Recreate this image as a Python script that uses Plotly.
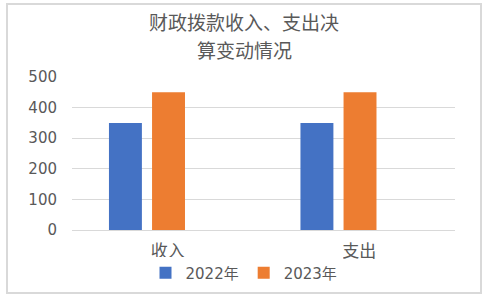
import plotly.graph_objects as go

categories = ["收入", "支出"]
series_names = ["2022年", "2023年"]
values_2022 = [350, 350]
values_2023 = [450, 450]
y_ticks = [0, 100, 200, 300, 400, 500]
title_lines = ["财政拨款收入、支出决", "算变动情况"]

W, H = 489, 297
L, R, T, B = 72, 34, 77, 67
pw, ph = W - L - R, H - T - B

colors = ["#4472C4", "#ED7D31"]
text_color = "#595959"
grid_color = "#d9d9d9"
cjk = "Noto Sans CJK SC"
num_font = "DejaVu Sans, Noto Sans CJK SC"

fig = go.Figure()
bar_w = 0.172
offsets = [-0.307, -0.082]
for name, vals, col, off in zip(series_names, [values_2022, values_2023], colors, offsets):
    fig.add_trace(go.Bar(x=categories, y=vals, name=name, marker_color=col,
                         marker_line_width=0, width=bar_w, offset=off))

def px_to_paper_x(px):
    return (px - L) / pw

def px_to_paper_y(py):
    return (H - B - py) / ph

# outer chart border
fig.add_shape(type="rect", xref="paper", yref="paper",
              x0=px_to_paper_x(7), x1=px_to_paper_x(481),
              y0=px_to_paper_y(293), y1=px_to_paper_y(4),
              line=dict(color="#d9d9d9", width=2), fillcolor="rgba(0,0,0,0)", layer="below")

# title as two centered lines
for line, yc in zip(title_lines, [22, 50]):
    fig.add_annotation(text=line, xref="paper", yref="paper",
                       x=px_to_paper_x(244), y=px_to_paper_y(yc),
                       xanchor="center", yanchor="middle", showarrow=False,
                       font=dict(family=cjk, size=19, color=text_color))

fig.update_layout(
    width=W, height=H,
    margin=dict(l=L, r=R, t=T, b=B, autoexpand=False),
    paper_bgcolor="white", plot_bgcolor="white",
    showlegend=True,
    legend=dict(orientation="h",
                x=px_to_paper_x(244), y=px_to_paper_y(273), xanchor="center", yanchor="middle",
                font=dict(family=num_font, size=15, color=text_color),
                itemwidth=30, tracegroupgap=0),
    xaxis=dict(type="category", range=[-0.5, 1.5], showgrid=False, showline=True,
               linecolor=grid_color, linewidth=1, ticks="", ticklabelstandoff=6,
               automargin=False,
               tickfont=dict(family=cjk, size=17, color=text_color), fixedrange=True),
    yaxis=dict(range=[0, 500], tickvals=y_ticks, showgrid=True, gridcolor=grid_color,
               gridwidth=1, zeroline=False, showline=False, ticks="",
               ticklabelstandoff=14, automargin=False,
               tickfont=dict(family=num_font, size=15, color=text_color), fixedrange=True),
)

fig.write_html("out.html")
